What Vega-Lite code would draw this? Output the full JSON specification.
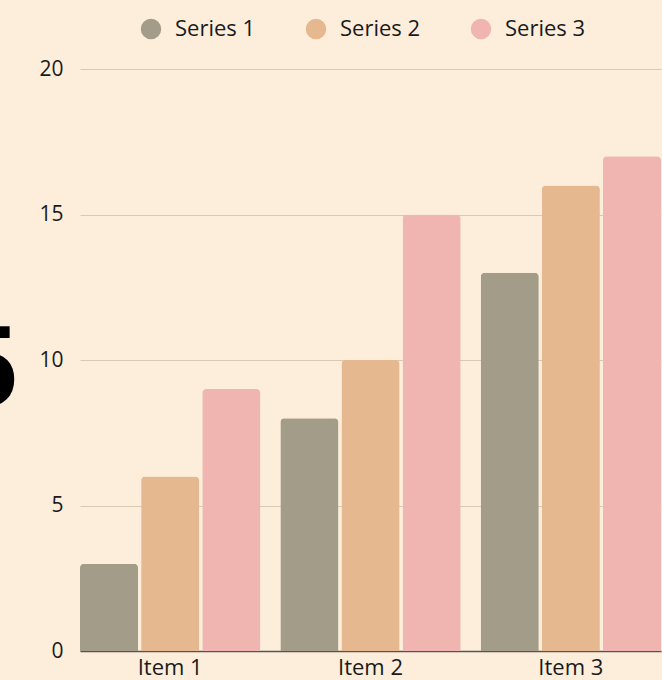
{
  "$schema": "https://vega.github.io/schema/vega-lite/v6.json",
  "width": 581,
  "height": 582,
  "autosize": {"type": "none"},
  "padding": {"left": 80, "top": 69, "right": 1, "bottom": 29},
  "background": "#FCEEDA",
  "config": {
    "view": {"stroke": null},
    "font": "Open Sans",
    "axis": {"labelFont": "Open Sans", "labelFontSize": 21, "labelColor": "#1a1a1a"},
    "legend": {"labelFont": "Open Sans", "labelFontSize": 22, "labelColor": "#1a1a1a"}
  },
  "data": {
    "values": [
      {"item": "Item 1", "series": "Series 1", "value": 3},
      {"item": "Item 1", "series": "Series 2", "value": 6},
      {"item": "Item 1", "series": "Series 3", "value": 9},
      {"item": "Item 2", "series": "Series 1", "value": 8},
      {"item": "Item 2", "series": "Series 2", "value": 10},
      {"item": "Item 2", "series": "Series 3", "value": 15},
      {"item": "Item 3", "series": "Series 1", "value": 13},
      {"item": "Item 3", "series": "Series 2", "value": 16},
      {"item": "Item 3", "series": "Series 3", "value": 17}
    ]
  },
  "mark": {"type": "bar", "cornerRadiusTopLeft": 4, "cornerRadiusTopRight": 4},
  "encoding": {
    "x": {
      "field": "item",
      "type": "nominal",
      "scale": {"paddingInner": 0.1, "paddingOuter": 0},
      "axis": {
        "title": null,
        "labelAngle": 0,
        "labelFontSize": 22,
        "ticks": false,
        "domain": true,
        "domainColor": "#555555",
        "domainWidth": 1.5,
        "labelPadding": 6,
        "grid": false
      }
    },
    "xOffset": {"field": "series", "type": "nominal", "scale": {"paddingInner": 0.05}},
    "y": {
      "field": "value",
      "type": "quantitative",
      "scale": {"domain": [0, 20]},
      "axis": {
        "values": [0, 5, 10, 15, 20],
        "title": "5",
        "titleAngle": 0,
        "titleFont": "Liberation Sans",
        "titleFontWeight": "bold",
        "titleFontSize": 115,
        "titleColor": "#000000",
        "titleAlign": "right",
        "titleBaseline": "alphabetic",
        "titleX": -63,
        "titleY": 336,
        "ticks": false,
        "domain": false,
        "labelPadding": 17,
        "grid": true,
        "gridColor": "#D8C8B4",
        "gridWidth": 1
      }
    },
    "color": {
      "field": "series",
      "type": "nominal",
      "scale": {"range": ["#A39C88", "#E5B890", "#F0B5B0"]},
      "legend": {
        "title": null,
        "orient": "none",
        "direction": "horizontal",
        "legendX": 60,
        "legendY": -51,
        "symbolType": "circle",
        "symbolSize": 420,
        "symbolStrokeWidth": 0,
        "symbolOpacity": 1,
        "columnPadding": 49,
        "labelOffset": 13
      }
    }
  }
}
